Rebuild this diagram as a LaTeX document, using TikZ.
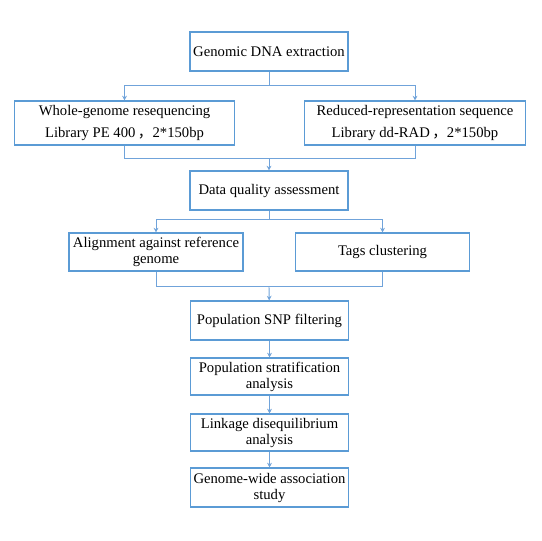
\documentclass[tikz,border=0pt]{standalone}
\usepackage{fontspec}
\setmainfont{Liberation Serif}
\newfontfamily\cjk{Noto Sans CJK SC}
\usepackage{tikz}
\usetikzlibrary{arrows.meta}
\definecolor{boxblue}{RGB}{91,155,213}
\definecolor{lineblue}{RGB}{112,163,218}
\newcommand{\fwcomma}{\,{\cjk ，}}

\begin{document}
\begin{tikzpicture}[x=0.75pt, y=-0.75pt,
	box/.style={draw=boxblue, line width=0.8pt, inner sep=0pt, align=center, minimum width=118.5pt, minimum height=29.25pt, font=\fontsize{11}{12}\selectfont},
	widebox/.style={box, minimum width=165.5pt, minimum height=33pt},
	midbox/.style={box, minimum width=130.5pt, minimum height=28.5pt},
	conn/.style={draw=lineblue, line width=0.7pt},
	>={Stealth[length=3.5pt, width=3.5pt]}]
\useasboundingbox (0,0) rectangle (542,540);
\node[box] (dna) at (269,51.5) {Genomic DNA extraction};
\node[widebox] (wgs) at (124.5,123) {Whole-genome resequencing \\[4.5pt] Library PE 400\fwcomma 2*150bp};
\node[widebox] (rrs) at (415,123) {Reduced-representation sequence \\[4.5pt] Library dd-RAD\fwcomma 2*150bp};
\node[box] (dqa) at (269,190.5) {Data quality assessment};
\node[midbox] (aln) at (156,252) {Alignment against reference \\ genome};
\node[midbox] (tag) at (382.5,252) {Tags clustering};
\node[box] (snp) at (269.5,320.5) {Population SNP filtering};
\node[box, minimum height=27.75pt] (strat) at (269.5,376.5) {Population stratification \\ analysis};
\node[box, minimum height=27.75pt] (ld) at (269.5,432.5) {Linkage disequilibrium \\ analysis};
\node[box] (gwas) at (269.5,487.5) {Genome-wide association \\ study};
\coordinate (s1) at (269,85);
\coordinate (m1) at (269,158);
\coordinate (s2) at (269,219);
\coordinate (m2) at (269,286);
\draw[conn] (dna) -- (s1);
\draw[conn,->] (s1) -| (wgs);
\draw[conn,->] (s1) -| (rrs);
\draw[conn] (wgs) |- (m1);
\draw[conn] (rrs) |- (m1);
\draw[conn,->] (m1) -- (dqa);
\draw[conn] (dqa) -- (s2);
\draw[conn,->] (s2) -| (aln);
\draw[conn,->] (s2) -| (tag);
\draw[conn] (aln) |- (m2);
\draw[conn] (tag) |- (m2);
\draw[conn,->] (m2) -- (snp);
\path[conn,->]
(snp) edge (strat)
(strat) edge (ld)
(ld) edge (gwas)
;
\end{tikzpicture}
\end{document}
